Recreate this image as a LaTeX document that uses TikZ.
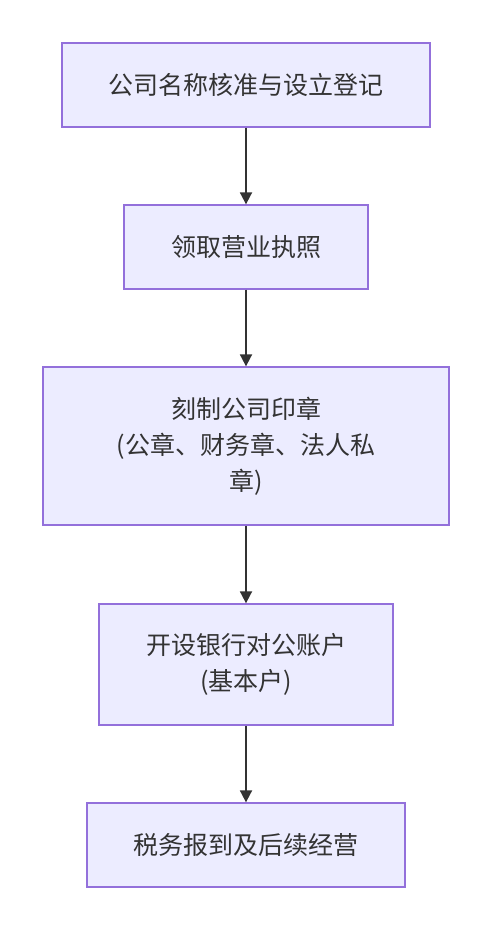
\documentclass[tikz,border=0pt]{standalone}
\usepackage{fontspec}
\setmainfont{Noto Sans CJK SC}
\usetikzlibrary{arrows.meta}

\definecolor{boxfill}{HTML}{ECECFF}
\definecolor{boxline}{HTML}{9370DB}
\definecolor{inkgray}{HTML}{333333}

\tikzset{
  stepbox/.style={draw=boxline, fill=boxfill, line width=1.3pt, text=inkgray,
    align=center, inner sep=0pt, font=\fontsize{25}{36}\selectfont},
  flow/.style={draw=inkgray, line width=1.8pt, -{Triangle[length=12pt, width=12pt]}}
}

\begin{document}
\begin{tikzpicture}[x=1pt, y=-1pt]
  \useasboundingbox (0,0) rectangle (492,931);

  % Steps
  \node[stepbox, minimum width=368pt, minimum height=84pt] (name) at (246,85) {公司名称核准与设立登记};
  \node[stepbox, minimum width=244pt, minimum height=84pt] (license) at (246,247) {领取营业执照};
  \node[stepbox, minimum width=406pt, minimum height=158pt] (seal) at (246,446) {刻制公司印章\\ (公章、财务章、法人私\\ 章)};
  \node[stepbox, minimum width=294pt, minimum height=121pt] (bank) at (246,664.5) {开设银行对公账户\\ (基本户)};
  \node[stepbox, minimum width=318pt, minimum height=84pt] (tax) at (246,845) {税务报到及后续经营};

  % Connectors
  \draw[flow] (name) -- (license);
  \draw[flow] (license) -- (seal);
  \draw[flow] (seal) -- (bank);
  \draw[flow] (bank) -- (tax);
\end{tikzpicture}
\end{document}
